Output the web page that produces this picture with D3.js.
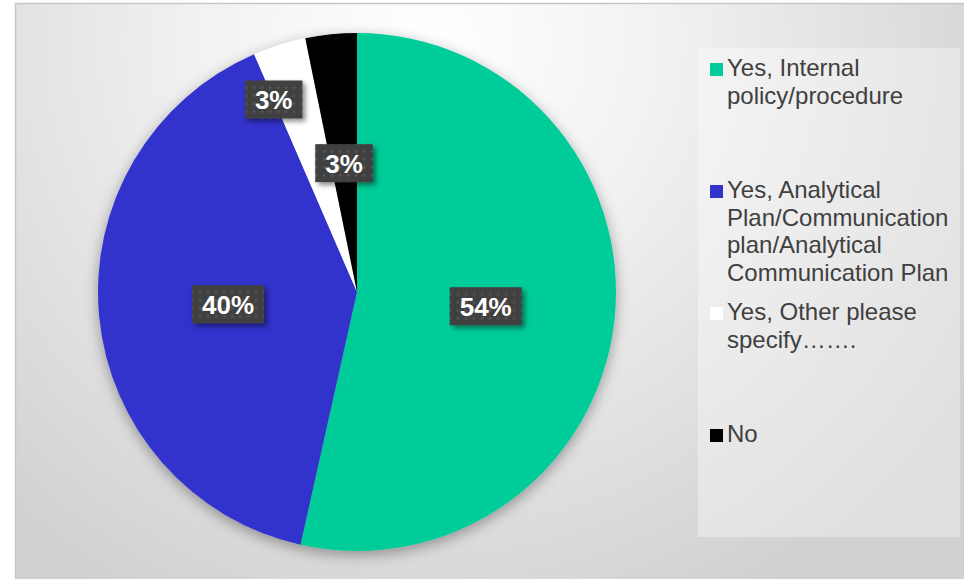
<!DOCTYPE html>
<html>
<head>
<meta charset="utf-8">
<script src="https://cdn.jsdelivr.net/npm/d3@7"></script>
<style>
  body { margin: 0; background: #fff; }
  svg { display: block; font-family: "Liberation Sans", Arial, sans-serif; }
</style>
</head>
<body>
<script>
var width = 964;
var height = 579;

// survey answers, share of responses in %
var categories = [
  "Yes, Internal policy/procedure",
  "Yes, Analytical Plan/Communication plan/Analytical Communication Plan",
  "Yes, Other please specify…….",
  "No"
];
var shares = [53.5, 40, 3.3, 3.2];
var colors = ["#00cc99", "#3333cc", "#ffffff", "#000000"];

// legend lines, as wrapped in the original
var legendLines = [
  ["Yes, Internal", "policy/procedure"],
  ["Yes, Analytical", "Plan/Communication", "plan/Analytical", "Communication Plan"],
  ["Yes, Other please", "specify\u2026\u2026."],
  ["No"]
];

var cx = 357, cy = 292, radius = 259;

var svg = d3.select("body").append("svg")
    .attr("width", width)
    .attr("height", height);

var defs = svg.append("defs");

var bg = defs.append("radialGradient")
    .attr("id", "bg")
    .attr("gradientUnits", "userSpaceOnUse")
    .attr("cx", 430).attr("cy", 40).attr("r", 640);
bg.append("stop").attr("offset", "0%").attr("stop-color", "#ffffff");
bg.append("stop").attr("offset", "35%").attr("stop-color", "#f2f2f2");
bg.append("stop").attr("offset", "100%").attr("stop-color", "#d0d0d0");

var pieShadow = defs.append("filter").attr("id", "pieShadow")
    .attr("x", "-20%").attr("y", "-20%").attr("width", "140%").attr("height", "140%");
pieShadow.append("feDropShadow")
    .attr("dx", 0).attr("dy", 4).attr("stdDeviation", 7)
    .attr("flood-color", "#000").attr("flood-opacity", 0.35);

var boxShadow = defs.append("filter").attr("id", "boxShadow")
    .attr("x", "-30%").attr("y", "-30%").attr("width", "160%").attr("height", "160%");
boxShadow.append("feDropShadow")
    .attr("dx", 3).attr("dy", 3).attr("stdDeviation", 2.5)
    .attr("flood-color", "#000").attr("flood-opacity", 0.45);

var dots = defs.append("pattern").attr("id", "dots")
    .attr("patternUnits", "userSpaceOnUse")
    .attr("width", 8).attr("height", 8);
dots.append("rect").attr("width", 8).attr("height", 8).attr("fill", "#404040");
dots.append("rect").attr("x", 3).attr("y", 3).attr("width", 2.5).attr("height", 2.5).attr("fill", "#555555");

// chart area
svg.append("rect")
    .attr("x", 15.5).attr("y", 3.5)
    .attr("width", width).attr("height", height)
    .attr("fill", "url(#bg)")
    .attr("stroke", "#c6c6c6")
    .attr("stroke-width", 1.5);

var pie = d3.pie().sort(null).value(function(d) { return d; });
var arcs = pie(shares);
var total = d3.sum(shares);

var arc = d3.arc().innerRadius(0).outerRadius(radius);
var labelArc = d3.arc().innerRadius(radius * 0.5).outerRadius(radius * 0.5);

var g = svg.append("g").attr("transform", "translate(" + cx + "," + cy + ")");

g.append("g")
    .attr("filter", "url(#pieShadow)")
  .selectAll("path")
  .data(arcs)
  .enter().append("path")
    .attr("d", arc)
    .attr("fill", function(d, i) { return colors[i]; });

function labelPos(d, i) {
  // the two thin slices would collide, Excel pushes one out
  if (i == 2) {
    var a = d.startAngle, r = radius * 0.81;
    return [r * Math.sin(a), -r * Math.cos(a)];
  }
  return labelArc.centroid(d);
}

var labels = g.append("g").selectAll("g")
  .data(arcs)
  .enter().append("g")
    .attr("transform", function(d, i) { return "translate(" + labelPos(d, i) + ")"; });

labels.append("text")
    .attr("class", "lbl")
    .attr("text-anchor", "middle")
    .attr("dy", "0.36em")
    .attr("fill", "#ffffff")
    .attr("font-weight", "bold")
    .attr("font-size", 26)
    .text(function(d) { return Math.round(d.value / total * 100) + "%"; });

labels.each(function() {
  var t = d3.select(this).select("text");
  var bb = t.node().getBBox();
  d3.select(this).insert("rect", "text")
      .attr("x", bb.x - 10)
      .attr("y", -19)
      .attr("width", bb.width + 20)
      .attr("height", 38)
      .attr("fill", "url(#dots)")
      .attr("filter", "url(#boxShadow)");
});

// legend
svg.append("rect")
    .attr("x", 698).attr("y", 48)
    .attr("width", 262).attr("height", 489)
    .attr("fill", "#ffffff")
    .attr("fill-opacity", 0.35);

var legend = svg.append("g").selectAll("g")
  .data(categories)
  .enter().append("g")
    .attr("transform", function(d, i) { return "translate(710," + (76 + i * 122) + ")"; });

legend.append("rect")
    .attr("x", 0).attr("y", -13)
    .attr("width", 13).attr("height", 13)
    .attr("fill", function(d, i) { return colors[i]; });

legend.append("text")
    .attr("x", 17)
    .attr("fill", "#404040")
    .attr("font-size", 24)
  .selectAll("tspan")
  .data(function(d, i) { return legendLines[i]; })
  .enter().append("tspan")
    .attr("x", 17)
    .attr("y", function(d, j) { return j * 27.5; })
    .text(function(d) { return d; });
</script>
</body>
</html>
